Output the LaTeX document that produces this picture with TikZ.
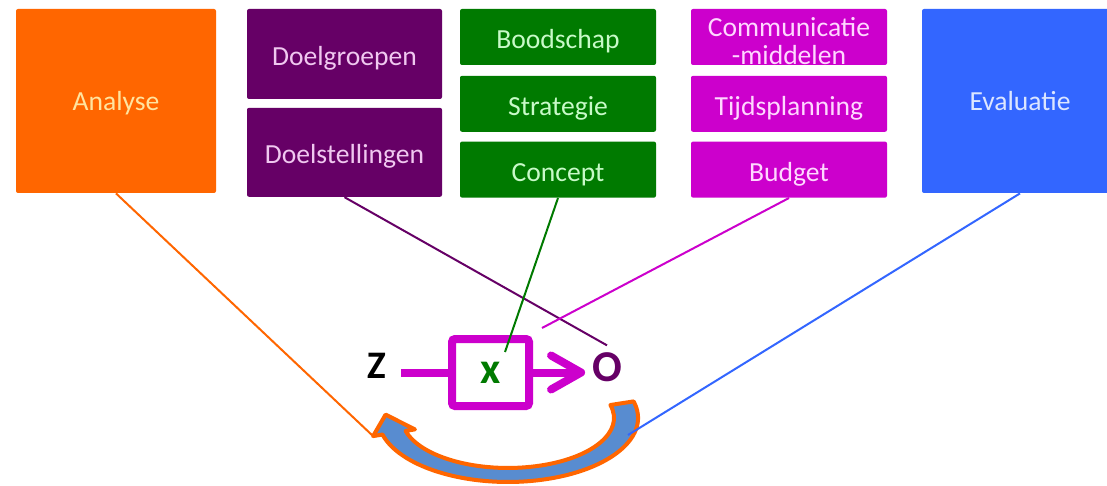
\documentclass[tikz,border=0pt]{standalone}
\usepackage{fontspec}
\setmainfont{Carlito}
\usepackage{tikz}
\usetikzlibrary{positioning,arrows.meta}
\definecolor{oranje}{RGB}{255,102,0}
\definecolor{paars}{RGB}{102,0,102}
\definecolor{groen}{RGB}{0,122,0}
\definecolor{roze}{RGB}{204,0,204}
\definecolor{blauw}{RGB}{51,102,255}
\definecolor{boog}{RGB}{88,140,208}
\definecolor{lichtoranje}{RGB}{255,228,160}
\definecolor{lichtpaars}{RGB}{240,200,240}
\definecolor{lichtgroen}{RGB}{200,250,200}
\definecolor{lichtroze}{RGB}{255,215,255}
\definecolor{lichtblauw}{RGB}{220,230,255}
\tikzset{%
  every box/.style={
    rectangle,
    rounded corners=1pt,
    minimum width=98pt,
    inner sep=0pt,
    align=center,
    text height=11.5pt,
    text depth=0pt,
    font=\fontsize{13.8}{14}\selectfont
  },
  small box/.style={
    every box,
    minimum height=28pt
  },
  link/.style={
    line width=1pt
  },
  flow/.style={
    line width=4pt,
    draw=roze
  },
  letter/.style={
    font=\fontsize{22}{22}\selectfont\bfseries
  },
}

\begin{document}
\begin{tikzpicture}[x=0.5pt, y=-0.5pt, > = {Straight Barb[length=15pt,width=17pt,round]}]
\clip (0,0) rectangle (1107,486);
\fill[white] (0,0) rectangle (1107,486);

\node[every box, fill=oranje, text=lichtoranje, minimum width=100pt, minimum height=92pt, text height=10pt] (analyse) at (116,101) {Analyse};

\node[every box, fill=paars, text=lichtpaars, minimum width=97.5pt, minimum height=45pt] (doelgroepen) at (344.5,54) {Doelgroepen};
\node[every box, fill=paars, text=lichtpaars, minimum width=97.5pt, minimum height=44.5pt, below=4pt of doelgroepen] (doelstellingen) {Doelstellingen};

\node[small box, fill=groen, text=lichtgroen] (boodschap) at (558,37) {Boodschap};
\node[small box, fill=groen, text=lichtgroen, below=5pt of boodschap] (strategie) {Strategie};
\node[small box, fill=groen, text=lichtgroen, below=4.5pt of strategie] (concept) {Concept};

\node[small box, fill=roze, text=lichtroze, text height=27.5pt, text depth=-1.5pt] (middelen) at (789,37) {Communicatie\\-middelen};
\node[small box, fill=roze, text=lichtroze, below=5pt of middelen] (planning) {Tijdsplanning};
\node[small box, fill=roze, text=lichtroze, below=4.5pt of planning] (budget) {Budget};

\node[every box, fill=blauw, text=lichtblauw, minimum height=92pt, text height=10pt] (evaluatie) at (1020,101) {Evaluatie};

% Z -> x -> O
\node[letter, font=\fontsize{19.5}{20}\selectfont\bfseries] (z) at (377,365.5) {Z};
\node[letter, text=groen, draw=roze, line width=4pt, rounded corners=1.5pt, minimum width=38.5pt, minimum height=33.5pt, inner sep=0pt] (proc) at (490.5,372.5) {x};
\node[letter, text=paars] (o) at (607,367) {O};
\draw[flow, shorten <=4pt] (z.east |- proc.west) -- (proc.west);
\draw[flow, ->] (proc.east) -- (proc.east -| o.west);

% terugkoppeling
\filldraw[draw=oranje, fill=boog, line width=2pt, line join=round]
  (633.6,401.4) arc[start angle=-15, end angle=165, x radius=130, y radius=64]
  -- (373.1,436.1) coordinate (vleugel)
  -- (385.6,414.6)
  -- (414.9,429.4)
  -- (405.6,430.9) arc[start angle=165, end angle=-15, x radius=106, y radius=50]
  -- cycle;

\coordinate (groenend) at (505,352);
\coordinate (rozeend) at (542,328);
\coordinate (blauwend) at (628,435);

\draw[link, oranje] (analyse.south) -- (vleugel);
\draw[link, paars] (doelstellingen.south) -- (o.north);
\draw[link, groen] (concept.south) -- (groenend);
\draw[link, roze] (budget.south) -- (rozeend);
\draw[link, blauw] (evaluatie.south) -- (blauwend);
\end{tikzpicture}
\end{document}
